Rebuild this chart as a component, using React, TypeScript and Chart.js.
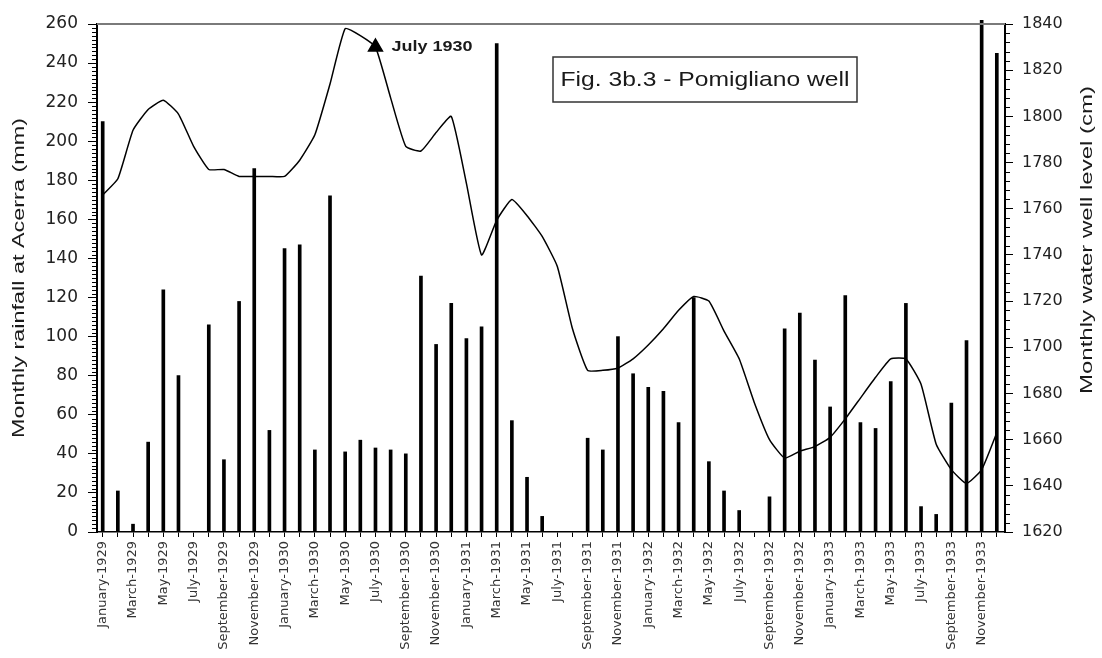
import React, { useEffect, useRef } from 'react';
import { Chart, registerables } from 'chart.js';

Chart.register(...registerables);

// ---------- data ----------
const MONTH_NAMES = [
  'January', 'February', 'March', 'April', 'May', 'June',
  'July', 'August', 'September', 'October', 'November', 'December',
];
const YEARS = [1929, 1930, 1931, 1932, 1933];
const monthLabels: string[] = YEARS.flatMap((y) => MONTH_NAMES.map((m) => `${m}-${y}`));

// Monthly rainfall at Acerra (mm)
const rainfall = [
  210, 21, 4, 46, 124, 80, 0, 106, 37, 118, 186, 52,
  145, 147, 42, 172, 41, 47, 43, 42, 40, 131, 96, 117,
  99, 105, 250, 57, 28, 8, 0, 0, 48, 42, 100, 81,
  74, 72, 56, 120, 36, 21, 11, 0, 18, 104, 112, 88,
  64, 121, 56, 53, 77, 117, 13, 9, 66, 98, 265, 245,
];

// Monthly water well level (cm)
const wellLevel = [
  1766, 1773, 1794, 1803, 1807, 1801, 1787, 1777, 1777, 1774, 1774, 1774,
  1774, 1781, 1792, 1814, 1838, 1835, 1830, 1808, 1787, 1785, 1793, 1800,
  1771, 1740, 1755, 1764, 1757, 1748, 1735, 1708, 1690, 1690, 1691, 1695,
  1701, 1708, 1716, 1722, 1720, 1707, 1695, 1676, 1660, 1652, 1655, 1657,
  1661, 1669, 1678, 1687, 1695, 1695, 1684, 1658, 1647, 1641, 1647, 1663,
];

const markerIndex = 18;
const markerLabel = 'July 1930';
const figureTitle = 'Fig. 3b.3 - Pomigliano well';
const leftTitle = 'Monthly rainfall at Acerra (mm)';
const rightTitle = 'Monthly water well level (cm)';

const RAIN_MIN = 0, RAIN_MAX = 260, RAIN_STEP = 20, RAIN_MINOR = 2;
const LEVEL_MIN = 1620, LEVEL_MAX = 1840, LEVEL_STEP = 20, LEVEL_MINOR = 4;

// ---------- helpers ----------
function stretchedText(
  ctx: CanvasRenderingContext2D, text: string, cx: number, cy: number,
  font: string, targetLen: number, rotate: boolean, align: CanvasTextAlign = 'center'
) {
  ctx.save();
  ctx.font = font;
  const w = ctx.measureText(text).width;
  const s = targetLen / w;
  ctx.translate(cx, cy);
  if (rotate) ctx.rotate(-Math.PI / 2);
  ctx.scale(s, 1);
  ctx.textAlign = align;
  ctx.textBaseline = 'middle';
  ctx.fillStyle = '#1a1a1a';
  ctx.fillText(text, 0, 0);
  ctx.restore();
}

const decorPlugin = {
  id: 'decor',
  afterDraw(chart: any) {
    const { ctx, chartArea: a, scales } = chart;
    ctx.save();
    // top frame line
    ctx.strokeStyle = '#7a7a7a';
    ctx.lineWidth = 2;
    ctx.beginPath();
    ctx.moveTo(a.left, a.top);
    ctx.lineTo(a.right, a.top);
    ctx.stroke();

    // minor ticks
    ctx.strokeStyle = '#000';
    ctx.lineWidth = 1;
    ctx.beginPath();
    for (let v = RAIN_MIN; v <= RAIN_MAX; v += RAIN_MINOR) {
      if (v % RAIN_STEP === 0) continue;
      const y = Math.round(scales.y.getPixelForValue(v)) + 0.5;
      ctx.moveTo(a.left - 5, y);
      ctx.lineTo(a.left, y);
    }
    for (let v = LEVEL_MIN; v <= LEVEL_MAX; v += LEVEL_MINOR) {
      if (v % LEVEL_STEP === 0) continue;
      const y = Math.round(scales.y1.getPixelForValue(v)) + 0.5;
      ctx.moveTo(a.right, y);
      ctx.lineTo(a.right + 5, y);
    }
    ctx.stroke();

    // figure title box
    const bx = a.left + 456, by = a.top + 33, bw = 304, bh = 45;
    ctx.fillStyle = '#fff';
    ctx.fillRect(bx, by, bw, bh);
    ctx.strokeStyle = '#333';
    ctx.lineWidth = 1.5;
    ctx.strokeRect(bx, by, bw, bh);
    stretchedText(ctx, figureTitle, bx + bw / 2, by + bh / 2 + 1, '21px "Liberation Sans", Arial, sans-serif', 289, false);

    // marker label
    const mx = scales.x.getPixelForValue(markerIndex);
    const my = scales.y1.getPixelForValue(wellLevel[markerIndex]);
    stretchedText(ctx, markerLabel, mx + 16, my, 'bold 14px "Liberation Sans", Arial, sans-serif', 81, false, 'left');

    // axis titles
    stretchedText(ctx, leftTitle, 20, (a.top + a.bottom) / 2, '16px "Liberation Sans", Arial, sans-serif', 320, true);
    stretchedText(ctx, rightTitle, 1088, 240, '16px "Liberation Sans", Arial, sans-serif', 308, true);
    ctx.restore();
  },
};

export default function App() {
  const canvasRef = useRef<HTMLCanvasElement | null>(null);

  useEffect(() => {
    if (!canvasRef.current) return;
    const barData = rainfall.map((v, i) => ({ x: i, y: v }));
    const lineData = wellLevel.map((v, i) => ({ x: i, y: v }));
    const chart = new Chart(canvasRef.current, {
      type: 'bar',
      data: {
        datasets: [
          {
            type: 'line',
            data: lineData,
            yAxisID: 'y1',
            borderColor: '#000',
            borderWidth: 1.5,
            backgroundColor: '#000',
            tension: 0.15,
            pointStyle: 'triangle',
            pointRadius: wellLevel.map((_, i) => (i === markerIndex ? 8 : 0)),
            pointHoverRadius: 0,
            pointBackgroundColor: '#000',
            pointBorderColor: '#000',
            order: 0,
          } as any,
          {
            type: 'bar',
            data: barData,
            yAxisID: 'y',
            backgroundColor: '#000',
            barThickness: 3,
            clip: { left: 0, top: 4, right: 0, bottom: 0 },
            order: 1,
          } as any,
        ],
      },
      options: {
        responsive: false,
        animation: false,
        devicePixelRatio: 1,
        layout: { padding: { top: 24, left: 0, right: 0, bottom: 0 } },
        plugins: { legend: { display: false }, tooltip: { enabled: false } },
        scales: {
          x: {
            type: 'linear',
            offset: false,
            min: -0.376,
            max: 59.54,
            afterFit: (s: any) => { s.height = 126; },
            border: { display: true, color: '#000', width: 1.5 },
            grid: { drawOnChartArea: false, drawTicks: true, tickLength: 5, color: '#000', offset: false },
            ticks: {
              stepSize: 1,
              includeBounds: false,
              autoSkip: false,
              maxTicksLimit: 200,
              minRotation: 90,
              maxRotation: 90,
              padding: 4,
              color: '#333',
              font: { family: '"DejaVu Sans", sans-serif', size: 13 },
              callback: (v: any) => {
                const i = Math.round(Number(v));
                return i % 2 === 0 && monthLabels[i] ? monthLabels[i] : '';
              },
            },
          },
          y: {
            position: 'left',
            min: RAIN_MIN,
            max: RAIN_MAX,
            afterFit: (s: any) => { s.width = 97; },
            border: { display: true, color: '#000', width: 2 },
            grid: { drawOnChartArea: false, drawTicks: true, tickLength: 9, color: '#000' },
            ticks: {
              stepSize: RAIN_STEP,
              padding: 10,
              color: '#222',
              font: { family: '"DejaVu Sans", sans-serif', size: 17 },
              callback: (v: any) => String(v),
            },
          },
          y1: {
            position: 'right',
            min: LEVEL_MIN,
            max: LEVEL_MAX,
            afterFit: (s: any) => { s.width = 97; },
            border: { display: true, color: '#000', width: 2 },
            grid: { drawOnChartArea: false, drawTicks: true, tickLength: 8, color: '#000' },
            ticks: {
              stepSize: LEVEL_STEP,
              padding: 9,
              color: '#222',
              font: { family: '"DejaVu Sans", sans-serif', size: 16 },
              callback: (v: any) => String(v),
            },
          },
        },
      } as any,
      plugins: [decorPlugin],
    });
    return () => chart.destroy();
  }, []);

  return (
    <div style={{ position: 'fixed', left: 0, top: 0, width: 1102, height: 658, background: '#fff' }}>
      <canvas ref={canvasRef} width={1102} height={658} style={{ display: 'block' }} />
    </div>
  );
}
